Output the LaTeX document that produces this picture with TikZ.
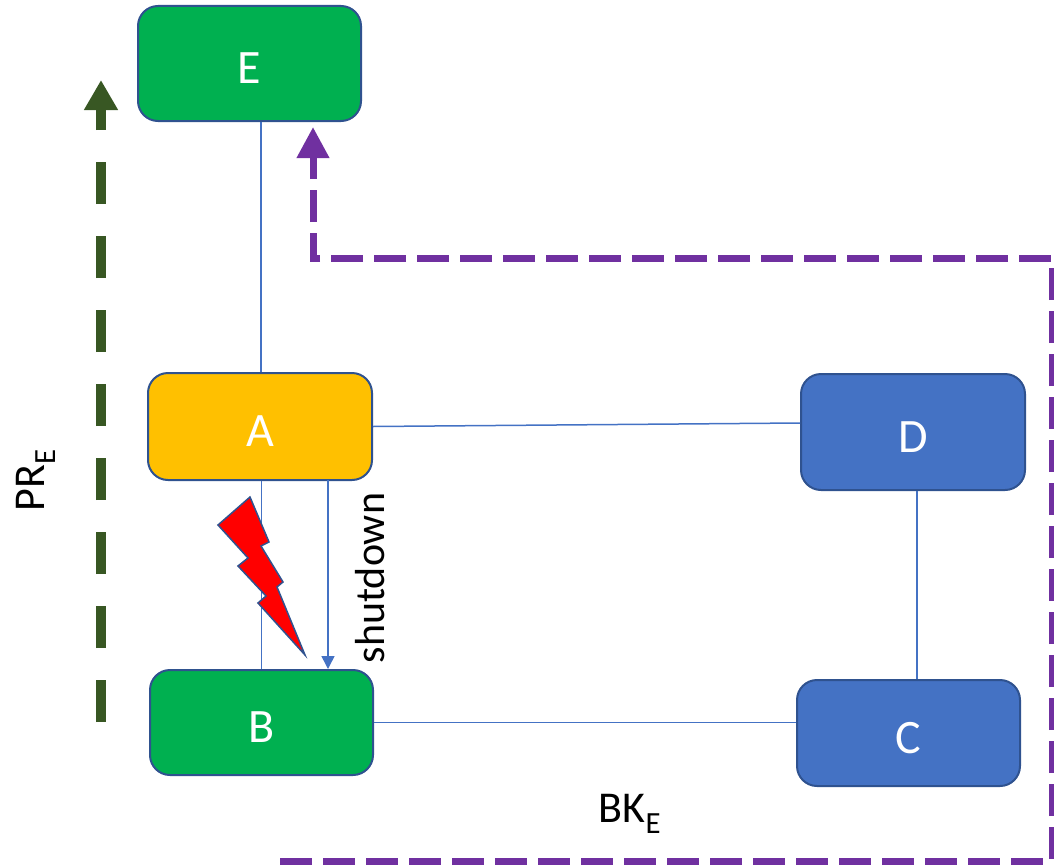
\documentclass[tikz,border=0pt]{standalone}
\usepackage{fontspec}
\setmainfont{Carlito}
\usetikzlibrary{arrows.meta}

\definecolor{boxgreen}{HTML}{00B050}
\definecolor{boxorange}{HTML}{FFC000}
\definecolor{boxblue}{HTML}{4472C4}
\definecolor{boxedge}{HTML}{2F528F}
\definecolor{pathgreen}{HTML}{385723}
\definecolor{pathpurple}{HTML}{7030A0}

\tikzset{
    router/.style={draw=boxedge, line width=2pt, rounded corners=20pt,
        minimum width=223pt, text=white, font=\fontsize{48}{56}\selectfont,
        text height=40pt, text depth=0pt},
    link/.style={draw=boxblue, line width=1.5pt},
    label/.style={font=\fontsize{44}{50}\selectfont}
}

\begin{document}
\begin{tikzpicture}[x=1pt, y=-1pt]
            \useasboundingbox (0, 0) rectangle (1054, 867);
            %\draw[lightgray] (0, 0) grid[step=100] (1054, 867);
            \node[router, fill=boxgreen, minimum height=115pt] (E) at (249.5, 63.5) {E};
            \node[router, fill=boxorange, minimum height=107pt, minimum width=224pt] (A) at (260, 426.5) {A};
            \node[router, fill=boxgreen, minimum height=105pt] (B) at (261.5, 722.5) {B};
            \node[router, fill=boxblue, minimum height=116pt, minimum width=224pt] (D) at (913, 432) {D};
            \node[router, fill=boxblue, minimum height=106pt] (C) at (908.5, 733) {C};
            % links
            \draw[link] ([xshift=1pt]A.north) -- ([xshift=1pt]A.north |- E.south);
            \draw[link] (B.north) -- (B.north |- A.south);
            \draw[link] (A.east) -- ([yshift=9pt]D.west);
            \draw[link] ([xshift=4pt]D.south) -- ([xshift=4pt]D.south |- C.north);
            \draw[link] (B.east) -- (B.east -| C.west);
            \coordinate (shut) at (328, 480);
            \draw[link, -{Triangle[width=13pt, length=13pt]}] (shut) -- (shut |- B.north);
            \node[font=\fontsize{42}{48}\selectfont, rotate=90] (shutlabel) at (370, 578) {shutdown};
            % lightning
            \draw[boxedge, line width=1.5pt, fill=red] (218, 525) -- (250, 497) -- (269, 542)
                -- (261, 546) -- (283, 582) -- (277, 587) -- (305, 655) -- (258, 603)
                -- (266, 596) -- (238, 566) -- (248, 558) -- cycle;
            % primary path
            \coordinate (pr-start) at (101, 722);
            \coordinate (pr-end) at (101, 80);
            \draw[pathgreen, line width=10pt, dash pattern=on 42pt off 32pt,
                -{Triangle[width=32pt, length=30pt]}] (pr-start) -- (pr-end);
            \node[label, rotate=90] (prlabel) at (36, 480) {PR\textsubscript{E}};
            % backup path
            \coordinate (bk-start) at (280, 861);
            \coordinate (bk-end) at (313, 127);
            \draw[pathpurple, line width=7pt, dash pattern=on 32pt off 11pt,
                -{Triangle[width=31pt, length=31pt]}] (bk-start) -- (1052, 861)
                -- (1052, 258) -- (313, 258) -- (bk-end);
            \node[label] (bklabel) at (630, 814) {BK\textsubscript{E}};
        \end{tikzpicture}
\end{document}
